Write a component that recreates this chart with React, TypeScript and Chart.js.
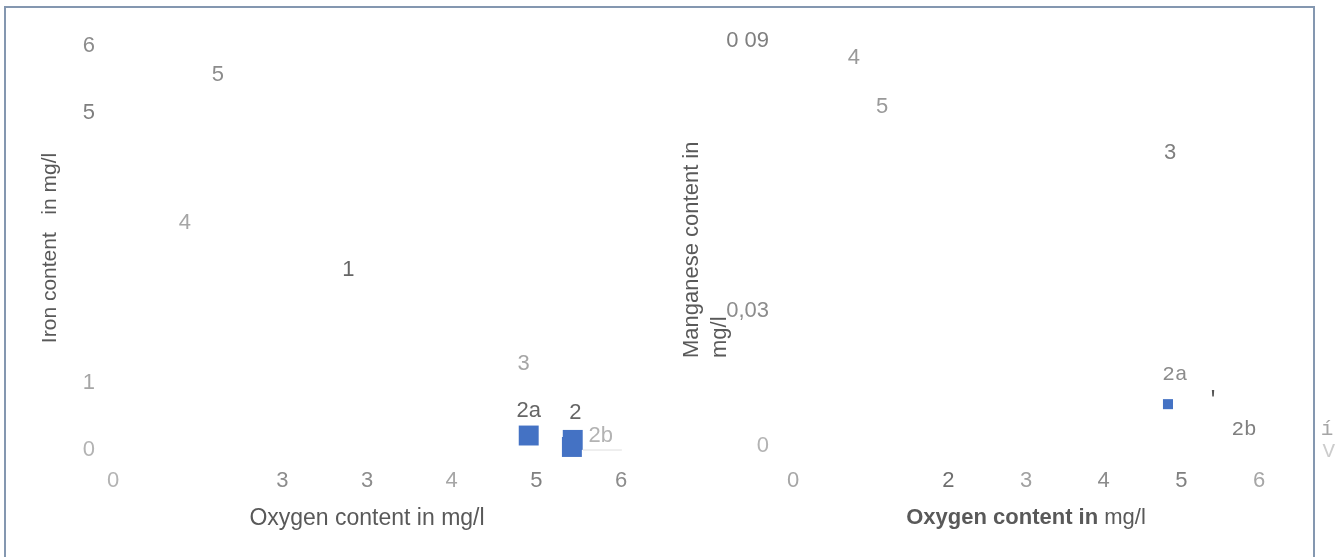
import React, { useEffect, useRef } from "react";
import { Chart, registerables } from "chart.js";

Chart.register(...registerables);

// ---------- Iron chart (left) ----------
const ironTickValuesX = [0, 2, 3, 4, 5, 6];
const ironTickLabelsX = ["0", "3", "3", "4", "5", "6"];
const ironTickValuesY = [0, 1, 5, 6];
const ironTickLabelsY = ["0", "1", "5", "6"];
const ironSampleNames = ["5", "4", "1", "3", "2a", "2", "2b"];
const ironSampleOxygen = [1.24, 0.85, 2.78, 4.85, 4.91, 5.46, 5.76];
const ironSampleIron = [5.57, 3.37, 2.67, 1.28, 0.58, 0.55, 0.21];
const ironMarkerOxygen = [4.91, 5.43, 5.42];
const ironMarkerIron = [0.215, 0.15, 0.045];
const ironFrameOxygen = [5.55, 6.01, 6.01, 6.01];
const ironFrameIron = [0, 0, 0.42, -0.18];

// ---------- Manganese chart (right) ----------
const mnTickValuesX = [0, 2, 3, 4, 5, 6];
const mnTickLabelsX = ["0", "2", "3", "4", "5", "6"];
const mnTickValuesY = [0, 0.03, 0.09];
const mnTickLabelsY = ["0", "0,03", "0 09"];
const mnSampleNames = ["4", "5", "3", "2a", "'", "2b", "í", "V"];
const mnSampleOxygen = [0.785, 1.146, 4.854, 4.918, 5.408, 5.807, 6.875, 6.9];
const mnSampleManganese = [0.0862, 0.0753, 0.0651, 0.0158, 0.0104, 0.0036, 0.0036, -0.0013];
const mnMarkerOxygen = [4.828];
const mnMarkerManganese = [0.0093];

// ---------- styles ----------
const SANS = "'Liberation Sans', Arial, sans-serif";
const MONO = "'Liberation Mono', 'DejaVu Sans Mono', monospace";
const BLUE = "#4472c4";
const ironTickColorsX = ["#b3b3b3", "#8c8c8c", "#8c8c8c", "#a6a6a6", "#808080", "#8c8c8c"];
const ironTickColorsY = ["#b3b3b3", "#a6a6a6", "#7f7f7f", "#8c8c8c"];
const mnTickColorsX = ["#a6a6a6", "#6e6e6e", "#a0a0a0", "#8c8c8c", "#7f7f7f", "#a6a6a6"];
const mnTickColorsY = ["#b3b3b3", "#8c8c8c", "#7f7f7f"];
const ironLabelColors = ["#8c8c8c", "#a6a6a6", "#666666", "#a6a6a6", "#666666", "#666666", "#b3b3b3"];
const ironLabelFonts = [SANS, SANS, SANS, SANS, SANS, SANS, SANS];
const mnLabelColors = ["#999999", "#999999", "#7f7f7f", "#8c8c8c", "#555555", "#7f7f7f", "#a6a6a6", "#cccccc"];
const mnLabelFonts = [SANS, SANS, SANS, MONO, MONO, MONO, MONO, MONO];

function pts(xs: number[], ys: number[]) {
  return xs.map((x, i) => ({ x, y: ys[i] }));
}

function labelPlugin(names: string[], xs: number[], ys: number[], colors: string[], fonts: string[]) {
  return {
    id: "sampleLabels",
    afterDatasetsDraw(chart: any) {
      const ctx = chart.ctx;
      const sx = chart.scales.x;
      const sy = chart.scales.y;
      ctx.save();
      ctx.textAlign = "center";
      ctx.textBaseline = "middle";
      names.forEach((n, i) => {
        const mono = fonts[i] === MONO;
        ctx.font = `${mono ? 21 : 22}px ${fonts[i]}`;
        ctx.fillStyle = colors[i];
        ctx.fillText(n, sx.getPixelForValue(xs[i]), sy.getPixelForValue(ys[i]));
      });
      ctx.restore();
    },
  };
}

function axis(values: number[], labels: string[], colors: string[], min: number, max: number, extra: any) {
  return {
    type: "linear",
    min,
    max,
    grid: { display: false, drawTicks: false },
    border: { display: false },
    afterBuildTicks: (scale: any) => {
      scale.ticks = values.map((v) => ({ value: v }));
    },
    ticks: {
      autoSkip: false,
      maxRotation: 0,
      font: { family: SANS, size: 22 },
      color: (c: any) => colors[c.index] || "#888",
      callback: (_v: any, i: number) => labels[i],
      ...extra.ticks,
    },
    ...extra.rest,
  };
}

function ironConfig(): any {
  return {
    type: "scatter",
    data: {
      datasets: [
        {
          data: pts(ironFrameOxygen, ironFrameIron),
          showLine: true,
          borderColor: "#dedede",
          borderWidth: 1,
          pointRadius: 0,
          clip: false,
        },
        {
          data: pts(ironMarkerOxygen, ironMarkerIron),
          pointStyle: "rect",
          pointRadius: 14.1,
          backgroundColor: BLUE,
          borderWidth: 0,
          clip: false,
        },
      ],
    },
    options: {
      responsive: false,
      devicePixelRatio: 1,
      animation: false,
      layout: { padding: { left: 0, top: 46, right: 49, bottom: 0 } },
      plugins: { legend: { display: false }, tooltip: { enabled: false } },
      scales: {
        x: axis(ironTickValuesX, ironTickLabelsX, ironTickColorsX, 0, 6, {
          ticks: { padding: 18 },
          rest: {
            afterFit: (s: any) => { s.height = 107; },
            title: {
              display: true,
              text: "Oxygen content in mg/l",
              color: "#595959",
              font: { family: SANS, size: 23 },
              padding: { top: 0, bottom: 25 },
            },
          },
        }),
        y: axis(ironTickValuesY, ironTickLabelsY, ironTickColorsY, 0, 6, {
          ticks: { padding: 18 },
          rest: {
            afterFit: (s: any) => { s.width = 113; },
            title: {
              display: true,
              text: "Iron content   in mg/l",
              color: "#595959",
              font: { family: SANS, size: 21 },
              padding: { top: 38, bottom: 0 },
            },
          },
        }),
      },
    },
    plugins: [labelPlugin(ironSampleNames, ironSampleOxygen, ironSampleIron, ironLabelColors, ironLabelFonts)],
  };
}

const mnTitlePlugin = {
  id: "mnTitles",
  afterDraw(chart: any) {
    const ctx = chart.ctx;
    const sx = chart.scales.x;
    ctx.save();
    ctx.fillStyle = "#595959";
    ctx.textBaseline = "middle";
    ctx.textAlign = "left";
    // x title: bold part + regular part
    const bold = "Oxygen content in";
    const reg = " mg/l";
    ctx.font = `bold 22px ${SANS}`;
    const wb = ctx.measureText(bold).width;
    ctx.font = `22px ${SANS}`;
    const wr = ctx.measureText(reg).width;
    const cx = (sx.left + sx.right) / 2;
    const x0 = cx - (wb + wr) / 2;
    ctx.font = `bold 22px ${SANS}`;
    ctx.fillText(bold, x0, 518);
    ctx.font = `22px ${SANS}`;
    ctx.fillText(reg, x0 + wb, 518);
    // y title (two lines, rotated, start-aligned)
    ctx.translate(0, 358);
    ctx.rotate(-Math.PI / 2);
    ctx.font = `22px ${SANS}`;
    ctx.fillText("Manganese content in", 0, 22);
    ctx.fillText("mg/l", 0, 50);
    ctx.restore();
  },
};

function mnConfig(): any {
  return {
    type: "scatter",
    data: {
      datasets: [
        {
          data: pts(mnMarkerOxygen, mnMarkerManganese),
          pointStyle: "rect",
          pointRadius: 7.1,
          backgroundColor: BLUE,
          borderWidth: 0,
          clip: false,
        },
      ],
    },
    options: {
      responsive: false,
      devicePixelRatio: 1,
      animation: false,
      layout: { padding: { left: 0, top: 41, right: 83, bottom: 0 } },
      plugins: { legend: { display: false }, tooltip: { enabled: false } },
      scales: {
        x: axis(mnTickValuesX, mnTickLabelsX, mnTickColorsX, 0, 6, {
          ticks: { padding: 22 },
          rest: { afterFit: (s: any) => { s.height = 111; } },
        }),
        y: axis(mnTickValuesY, mnTickLabelsY, mnTickColorsY, 0, 0.09, {
          ticks: { padding: 24 },
          rest: { afterFit: (s: any) => { s.width = 123; } },
        }),
      },
    },
    plugins: [
      labelPlugin(mnSampleNames, mnSampleOxygen, mnSampleManganese, mnLabelColors, mnLabelFonts),
      mnTitlePlugin,
    ],
  };
}

export default function App() {
  const leftRef = useRef<HTMLCanvasElement>(null);
  const rightRef = useRef<HTMLCanvasElement>(null);
  useEffect(() => {
    const c1 = new Chart(leftRef.current as HTMLCanvasElement, ironConfig());
    const c2 = new Chart(rightRef.current as HTMLCanvasElement, mnConfig());
    return () => {
      c1.destroy();
      c2.destroy();
    };
  }, []);
  return (
    <div style={{ position: "fixed", left: 0, top: 0, width: 1342, height: 557, overflow: "hidden", background: "#fff" }}>
      <div
        style={{
          position: "absolute",
          left: 4,
          top: 6,
          width: 1311,
          height: 620,
          border: "2px solid #8497b0",
          boxSizing: "border-box",
        }}
      />
      <canvas
        ref={leftRef}
        width={670}
        height={557}
        style={{ position: "absolute", left: 0, top: 0, width: 670, height: 557 }}
      />
      <canvas
        ref={rightRef}
        width={672}
        height={557}
        style={{ position: "absolute", left: 670, top: 0, width: 672, height: 557 }}
      />
    </div>
  );
}
